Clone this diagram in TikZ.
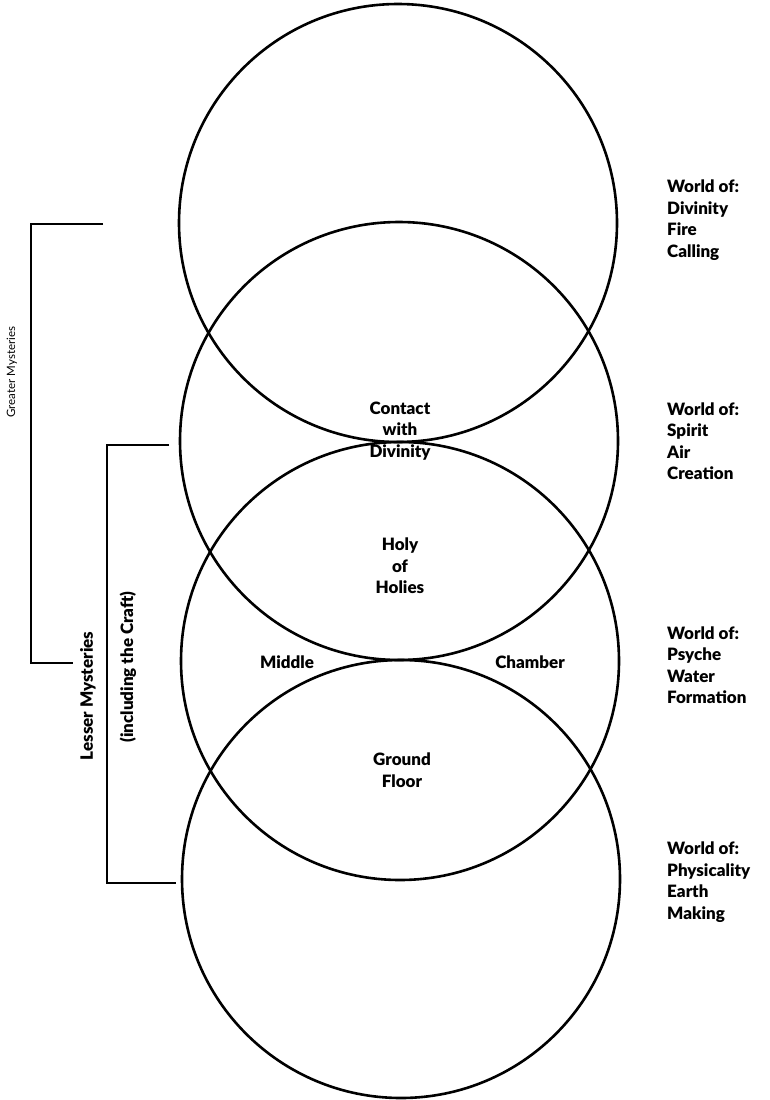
\documentclass[tikz,border=0pt]{standalone}
\usepackage{fontspec}
\setmainfont{Lato}[BoldFont={Lato Black}]
\begin{document}
\begin{tikzpicture}[x=1pt,y=-1pt,
 ring/.style={circle,draw,line width=2.6pt,minimum size=438pt,inner sep=0pt},
 lbl/.style={font=\bfseries\fontsize{17}{21.5}\selectfont,align=center,inner sep=0pt},
 world/.style={font=\bfseries\fontsize{17}{21.5}\selectfont,align=left,anchor=west,inner sep=0pt},
 brace/.style={line width=2.6pt,line cap=butt}]
\useasboundingbox (0,0) rectangle (770,1100);
% circles
\node[ring] (c1) at (398,223) {};
\node[ring] (c2) at (399,441) {};
\node[ring] (c3) at (400,661) {};
\node[ring] (c4) at (401,879) {};
% inner labels
\node[lbl] (contact) at (400,431) {Contact\\with\\Divinity};
\node[lbl] (holy) at (400,566) {Holy\\of\\Holies};
\node[lbl] (middle) at (287,662) {Middle};
\node[lbl] (chamber) at (530,662) {Chamber};
\node[lbl] (ground) at (402,770) {Ground\\Floor};
% worlds
\node[world] (w1) at (667,220) {World of:\\Divinity\\Fire\\Calling};
\node[world] (w2) at (667,441) {World of:\\Spirit\\Air\\Creation};
\node[world] (w3) at (667,665) {World of:\\Psyche\\Water\\Formation};
\node[world] (w4) at (667,882) {World of:\\Physicality\\Earth\\Making};
% brackets
\draw[brace] (103,224) -- (31,224) -- (31,663) -- (73,663);
\draw[brace] (169,445) -- (107,445) -- (107,883) -- (176,883);
\node[rotate=90,font=\fontsize{11.5}{12}\selectfont,inner sep=0pt] (greater) at (12,372) {Greater Mysteries};
\node[rotate=90,lbl] (lesser) at (88,696) {Lesser Mysteries};
\node[rotate=90,lbl] (craft) at (128,667) {(including the Craft)};
\end{tikzpicture}
\end{document}
